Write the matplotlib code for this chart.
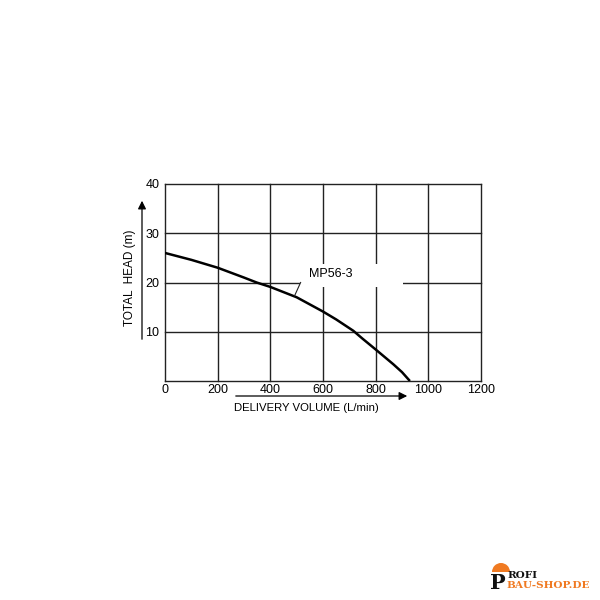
import matplotlib
matplotlib.use("Agg")
import matplotlib.pyplot as plt
from matplotlib.patches import Wedge, Rectangle

plt.rcParams['font.family'] = ['Liberation Sans', 'DejaVu Sans']

flow = [0, 100, 200, 300, 348, 400, 500, 600, 650, 715, 750, 800, 867, 900, 930]
head = [26.0, 24.6, 23.0, 21.0, 20.0, 19.1, 17.0, 14.1, 12.5, 10.2, 8.6, 6.4, 3.4, 1.8, 0.0]
xticks = [0, 200, 400, 600, 800, 1000, 1200]
yticks = [10, 20, 30, 40]
yticklabels = ["10", "20", "30", "40"]
series_name = "MP56-3"

fig = plt.figure(figsize=(6, 6), dpi=100)
ax = fig.add_axes([165/600, 1-381/600, 316/600, 197/600])
ax.set_xlim(0, 1200)
ax.set_ylim(0, 40)

for x in xticks:
    ax.axvline(x, color='#222222', lw=1.0, zorder=1, clip_on=False)
for y in [0] + yticks:
    ax.axhline(y, color='#222222', lw=1.0, zorder=1, clip_on=False)

ax.plot(flow, head, color='black', lw=1.8, zorder=3, solid_capstyle='butt',
        solid_joinstyle='round')

# label box hiding grid
ax.add_patch(Rectangle((513, 19.1), 391, 4.7, facecolor='white', edgecolor='none', zorder=2))
ax.text(545, 21.7, series_name, fontsize=9, ha='left', va='center', zorder=4)
ax.plot([515, 492], [20, 17.3], color='#222222', lw=0.8, zorder=4)

ax.set_xticks(xticks)
ax.set_yticks(yticks)
ax.set_yticklabels(yticklabels)
ax.tick_params(length=0, labelsize=9)
ax.tick_params(axis='x', pad=2)
ax.tick_params(axis='y', pad=4)
for s in ax.spines.values():
    s.set_visible(False)

# axis labels with arrows
fig.text(130/600, 1-278/600, "TOTAL  HEAD (m)", rotation=90, ha='center', va='center', fontsize=8.5)
fig.text(306/600, 1-408/600, "DELIVERY VOLUME (L/min)", ha='center', va='center', fontsize=8.2)
ax_over = fig.add_axes([0, 0, 1, 1], facecolor='none')
ax_over.set_xlim(0, 600)
ax_over.set_ylim(600, 0)
ax_over.axis('off')
ax_over.annotate("", xy=(142, 198), xytext=(142, 342),
                 arrowprops=dict(arrowstyle='-|>', color='black', lw=0.9, mutation_scale=12))
ax_over.annotate("", xy=(410, 396), xytext=(233, 396),
                 arrowprops=dict(arrowstyle='-|>', color='black', lw=0.9, mutation_scale=12))

# watermark
ax_over.add_patch(Wedge((501, 572), 9, 180, 360, facecolor='#f07a22', edgecolor='none'))
ax_over.text(498, 593, "P", fontsize=15, fontweight='bold', family='DejaVu Serif', ha='center', va='bottom', color='#111111')
ax_over.text(507, 576, "ROFI", fontsize=7.5, fontweight='bold', family='DejaVu Serif', ha='left', va='center', color='#111111')
ax_over.text(506, 586, "BAU-SHOP.DE", fontsize=7.5, fontweight='bold', family='DejaVu Serif', ha='left', va='center', color='#f07a22')

fig.savefig("out.png", dpi=100, facecolor='white')
